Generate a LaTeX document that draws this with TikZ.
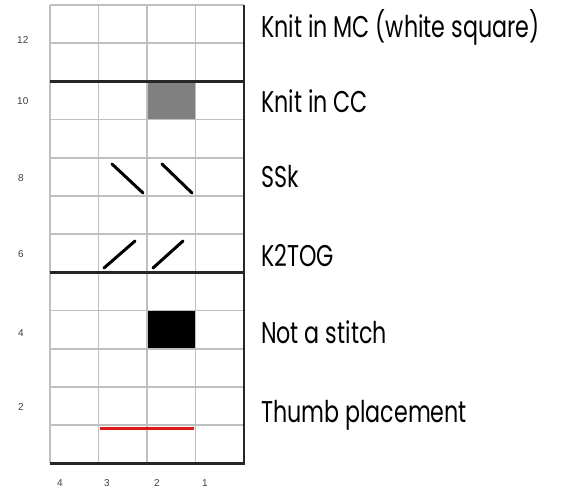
\documentclass[tikz,border=0pt]{standalone}
\usepackage{fontspec}
\setmainfont{Poppins}
\setsansfont{Liberation Sans}
\definecolor{thumbred}{RGB}{222,24,24}
\tikzset{
  gridline/.style={black!25, line width=1.6pt},
  rowrule/.style={black!85, line width=2.2pt},
  legend/.style={anchor=base west, inner sep=0pt, xscale=0.74,
    font=\fontsize{30}{30}\selectfont},
  rownum/.style={anchor=west, inner sep=0pt, text=black!75,
    font=\sffamily\fontsize{10}{10}\selectfont},
  colnum/.style={inner sep=0pt, text=black!75,
    font=\sffamily\fontsize{10}{10}\selectfont},
  decmark/.style={line width=3pt, line cap=round},
}
\begin{document}
\begin{tikzpicture}[x=1pt, y=-1pt]
  \useasboundingbox[fill=white] (0,0) rectangle (561,493);
  % chart cells
  \fill[black!50] (146.9,81.4) rectangle (195.35,119.6);
  \fill[black] (146.9,310.6) rectangle (195.35,348.8);
  \foreach \C in {0,...,4} {
    \pgfmathsetmacro{\X}{50+48.45*\C}
    \draw[gridline] (\X,5) -- (\X,463.4);
  }
  \foreach \R in {0,...,12} {
    \pgfmathsetmacro{\Y}{5+38.2*\R}
    \draw[gridline] (50,\Y) -- (243.8,\Y);
  }
  \draw[rowrule] (50,81.4) -- (243.8,81.4);
  \draw[rowrule] (50,272.4) -- (243.8,272.4);
  \draw[black!85, line width=2.2pt] (243.8,5) -- (243.8,463.4) -- (50,463.4);
  % ssk and k2tog
  \draw[decmark] (112,164) -- (143,193);
  \draw[decmark] (162,164) -- (192,193);
  \draw[decmark] (104,268) -- (135,241);
  \draw[decmark] (153,268) -- (183,241);
  % thumb
  \draw[thumbred, line width=3.2pt] (100,428.3) -- (194,428.3);
  % row and column numbers
  \node[rownum] (r12) at (17,40) {12};
  \node[rownum] (r10) at (17,101) {10};
  \node[rownum] (r8) at (18,178) {8};
  \node[rownum] (r6) at (18,254) {6};
  \node[rownum] (r4) at (18,333) {4};
  \node[rownum] (r2) at (18,407) {2};
  \node[colnum] (c4) at (60,483) {4};
  \node[colnum] (c3) at (107,483) {3};
  \node[colnum] (c2) at (157,483) {2};
  \node[colnum] (c1) at (205,483) {1};
  % legend
  \node[legend] (mc) at (261,37) {Knit in MC (white square)};
  \node[legend] (cc) at (261,112) {Knit in CC};
  \node[legend] (ssk) at (261,187) {SSk};
  \node[legend] (k2tog) at (261,266) {K2TOG};
  \node[legend] (nostitch) at (261,343) {Not a stitch};
  \node[legend] (thumb) at (261,422) {Thumb placement};
\end{tikzpicture}
\end{document}
